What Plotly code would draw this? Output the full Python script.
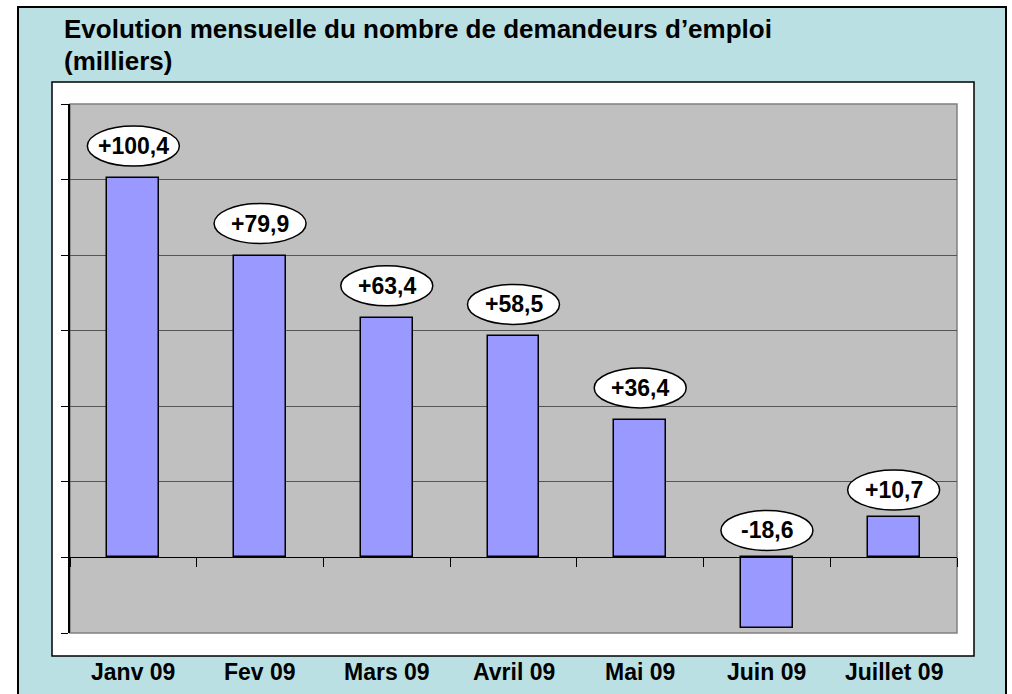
import plotly.graph_objects as go

categories = ["Janv 09", "Fev 09", "Mars 09", "Avril 09", "Mai 09", "Juin 09", "Juillet 09"]
values = [100.4, 79.9, 63.4, 58.5, 36.4, -18.6, 10.7]
title_line1 = "Evolution mensuelle du nombre de demandeurs d\u2019emploi"
title_line2 = "(milliers)"

W, H = 1012, 694
L, R, T, B = 70, 957, 104, 633  # plot area in pixels


def px(x):
    return (x - L) / (R - L)


def py(y):
    return (B - y) / (B - T)


FONT = "Arial, Liberation Sans, sans-serif"

fig = go.Figure()
fig.add_trace(go.Bar(
    x=categories, y=values, width=0.41,
    marker=dict(color="#9999FF", line=dict(color="black", width=1.5)),
    hoverinfo="skip",
))

shapes = [
    # outer light-blue frame
    dict(type="rect", xref="paper", yref="paper", layer="below",
         x0=px(18), x1=px(1006), y0=py(720), y1=py(7),
         fillcolor="#BAE0E4", line=dict(color="black", width=2)),
    # white chart area
    dict(type="rect", xref="paper", yref="paper", layer="below",
         x0=px(52), x1=px(974), y0=py(656), y1=py(82),
         fillcolor="white", line=dict(color="black", width=1.5)),
    # grey plot area
    dict(type="rect", xref="paper", yref="paper", layer="below",
         x0=0, x1=1, y0=0, y1=1,
         fillcolor="#C0C0C0", line=dict(color="#808080", width=1.5)),
]

annotations = [
    dict(text=f"<b>{title_line1}</b>", xref="paper", yref="paper",
         x=px(62), y=py(29), xanchor="left", yanchor="middle", showarrow=False,
         font=dict(family=FONT, size=26, color="black")),
    dict(text=f"<b>{title_line2}</b>", xref="paper", yref="paper",
         x=px(62), y=py(61), xanchor="left", yanchor="middle", showarrow=False,
         font=dict(family=FONT, size=26, color="black")),
]

OFF = 32
for i, (c, v) in enumerate(zip(categories, values)):
    base = max(v, 0)
    off = OFF if v > 15 else 27
    shapes.append(dict(
        type="circle", xref="x", yref="y", layer="above",
        xsizemode="pixel", ysizemode="pixel",
        xanchor=i, yanchor=base,
        x0=-46, x1=46, y0=off - 20, y1=off + 20,
        fillcolor="white", line=dict(color="black", width=1.5),
    ))
    label = f"{v:+.1f}".replace(".", ",")
    annotations.append(dict(
        text=f"<b>{label}</b>", x=i, y=base, xref="x", yref="y",
        yshift=off, showarrow=False, xanchor="center", yanchor="middle",
        font=dict(family=FONT, size=23, color="black"),
    ))
    annotations.append(dict(
        text=f"<b>{c}</b>", x=i, y=py(672), xref="x", yref="paper",
        showarrow=False, xanchor="center", yanchor="middle",
        font=dict(family=FONT, size=23, color="black"),
    ))

fig.update_layout(
    width=W, height=H,
    margin=dict(l=L, r=W - R, t=T, b=H - B),
    paper_bgcolor="white",
    plot_bgcolor="rgba(0,0,0,0)",
    showlegend=False,
    shapes=shapes,
    annotations=annotations,
    bargap=0,
)
fig.update_xaxes(
    type="category", range=[-0.5, 6.5],
    anchor="free", position=py(557),
    showline=True, linecolor="black", linewidth=1,
    ticks="outside", tickson="boundaries", ticklen=9, tickcolor="black", tickwidth=1,
    showticklabels=False, showgrid=False, zeroline=False, fixedrange=True,
)
fig.update_yaxes(
    range=[-20, 120], dtick=20, tick0=0,
    showline=True, linecolor="black", linewidth=1.5,
    ticks="outside", ticklen=7, tickcolor="black", tickwidth=1,
    showticklabels=False,
    showgrid=True, gridcolor="#555555", gridwidth=1,
    zeroline=False, fixedrange=True,
)

fig.write_html("out.html", config={"displayModeBar": False})
